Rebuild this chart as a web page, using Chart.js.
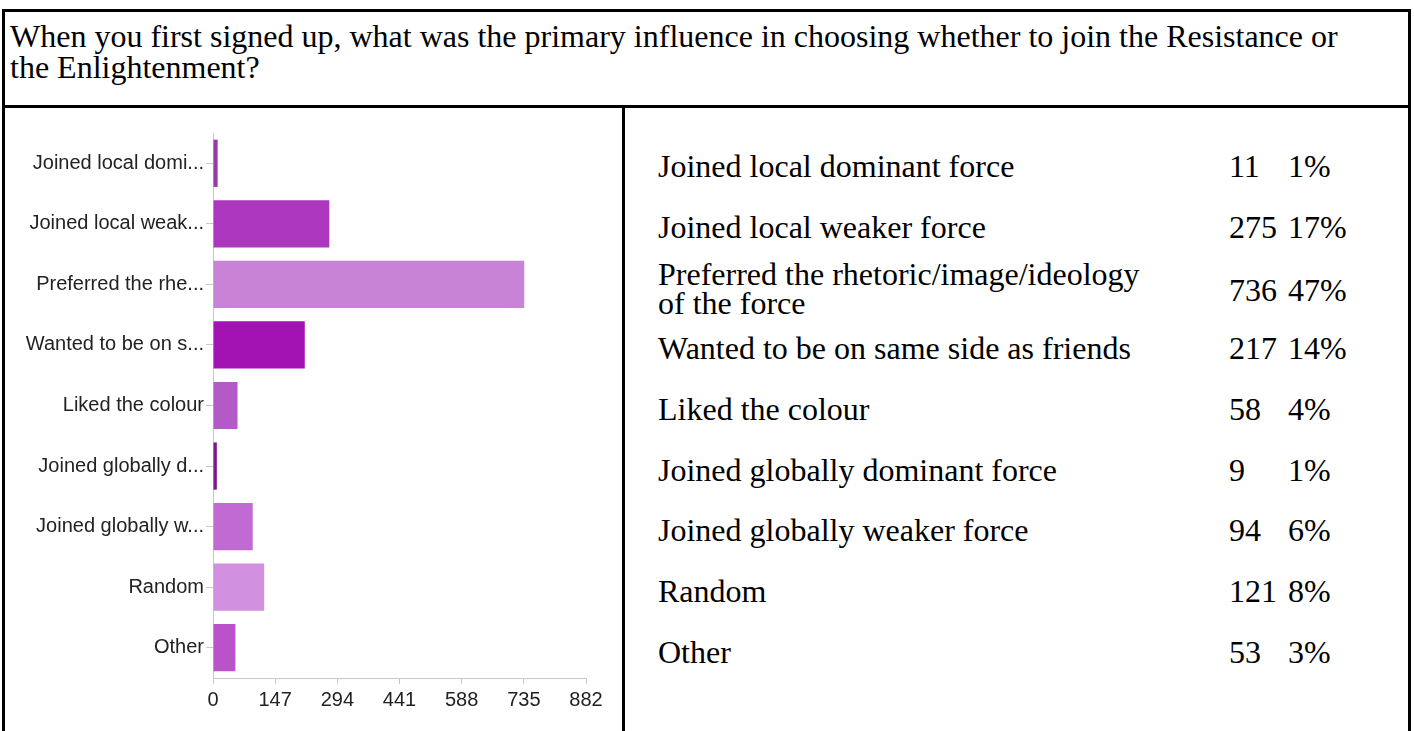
<!DOCTYPE html>
<html><head><meta charset="utf-8">
<script src="https://cdn.jsdelivr.net/npm/chart.js@4.4.1/dist/chart.umd.min.js"></script>
<style>
html,body{margin:0;padding:0;background:#fff;width:1414px;height:731px;overflow:hidden;}
.frame{position:absolute;left:2px;top:9px;width:1409px;height:760px;border:3px solid #000;box-sizing:border-box;}
.hline{position:absolute;left:2px;top:105px;width:1409px;height:3px;background:#000;}
.vline{position:absolute;left:622px;top:105px;width:3px;height:640px;background:#000;}
.title{position:absolute;left:10px;top:21px;font-family:"Liberation Serif","Times New Roman",serif;font-size:32px;line-height:31px;color:#000;white-space:nowrap;}
#wrap{position:absolute;left:0;top:108px;width:622px;height:623px;}
.cell{position:absolute;font-family:"Liberation Serif","Times New Roman",serif;font-size:32px;line-height:29px;color:#000;white-space:nowrap;transform:translateY(-50%);}
</style></head>
<body>
<div class="frame"></div>
<div class="hline"></div>
<div class="vline"></div>
<div class="title">When you first signed up, what was the primary influence in choosing whether to join the Resistance or<br>the Enlightenment?</div>
<div id="wrap"><canvas id="c"></canvas></div>
<div id="table"></div>
<script>
const categories = ["Joined local dominant force","Joined local weaker force","Preferred the rhetoric/image/ideology of the force","Wanted to be on same side as friends","Liked the colour","Joined globally dominant force","Joined globally weaker force","Random","Other"];
const tableLabels = ["Joined local dominant force","Joined local weaker force","Preferred the rhetoric/image/ideology<br>of the force","Wanted to be on same side as friends","Liked the colour","Joined globally dominant force","Joined globally weaker force","Random","Other"];
const tickLabels = ["Joined local domi...","Joined local weak...","Preferred the rhe...","Wanted to be on s...","Liked the colour","Joined globally d...","Joined globally w...","Random","Other"];
const counts = [11,275,736,217,58,9,94,121,53];
const percents = ["1%","17%","47%","14%","4%","1%","6%","8%","3%"];
const barColors = ["#963ca5","#aa37be","#c882d6","#a312b3","#b45ac6","#7e168c","#c06ad2","#d290e0","#ba52c9"];
const xTicks = [0,147,294,441,588,735,882];

// table on the right
const t = document.getElementById('table');
tableLabels.forEach((lab,i)=>{
  const y = 166 + 60.7*i;
  const yn = y + (i===2?3:0);
  t.insertAdjacentHTML('beforeend',
    `<div class="cell" style="left:658px;top:${y+(i===2?2:0)}px">${lab}</div>`+
    `<div class="cell" style="left:1229px;top:${yn}px">${counts[i]}</div>`+
    `<div class="cell" style="left:1288px;top:${yn}px">${percents[i]}</div>`);
});

const font = {family:'"Liberation Sans", Arial, sans-serif', size:20};
new Chart(document.getElementById('c'),{
  type:'bar',
  data:{labels:tickLabels,datasets:[{data:counts,backgroundColor:barColors,borderWidth:0,barPercentage:0.78,categoryPercentage:1}]},
  options:{
    indexAxis:'y',responsive:true,maintainAspectRatio:false,animation:false,
    layout:{padding:{top:25,right:36,left:0,bottom:0}},
    plugins:{legend:{display:false},tooltip:{enabled:false}},
    scales:{
      x:{min:0,max:882,
        afterBuildTicks:s=>{s.ticks=xTicks.map(v=>({value:v}));},
        afterFit:s=>{s.height=53;},
        grid:{display:true,drawOnChartArea:false,drawTicks:true,tickLength:6,color:'#c8c8c8'},
        border:{display:true,color:'#c8c8c8'},
        ticks:{font:font,color:'#222',padding:4,maxRotation:0,autoSkip:false}},
      y:{
        afterFit:s=>{s.width=213;},
        grid:{display:true,drawOnChartArea:false,drawTicks:true,tickLength:7,color:'#c8c8c8',offset:false},
        border:{display:true,color:'#c8c8c8'},
        ticks:{font:font,color:'#222',padding:2,autoSkip:false}}
    }
  }
});
</script>
</body></html>
